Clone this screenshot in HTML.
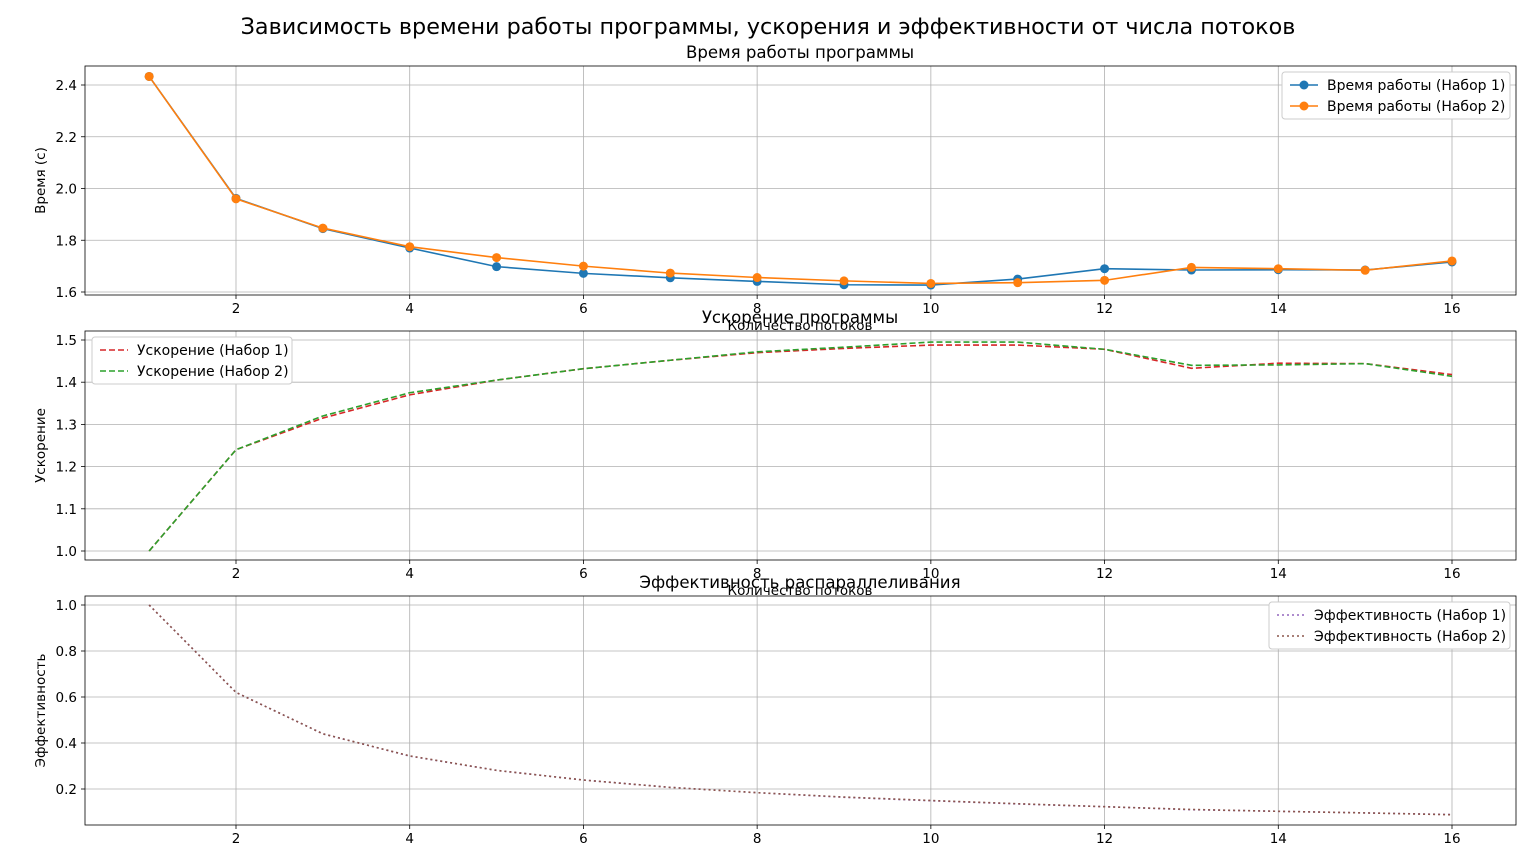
<!DOCTYPE html>
<html><head><meta charset="utf-8">
<style>
body{margin:0;background:#fff;}
svg{display:block;font-family:"DejaVu Sans","Liberation Sans",sans-serif;}
</style></head>
<body>
<svg id="chart" width="1536" height="850"></svg>
<script>
const threads=[1,2,3,4,5,6,7,8,9,10,11,12,13,14,15,16];
const time1=[2.433,1.962,1.845,1.770,1.698,1.672,1.655,1.641,1.628,1.627,1.650,1.690,1.685,1.686,1.685,1.716];
const time2=[2.433,1.960,1.847,1.775,1.733,1.700,1.673,1.656,1.643,1.633,1.636,1.645,1.695,1.690,1.684,1.720];
const speed1=[1.0,1.24,1.315,1.37,1.405,1.432,1.452,1.47,1.48,1.488,1.488,1.478,1.433,1.445,1.444,1.418];
const speed2=[1.0,1.24,1.32,1.375,1.405,1.432,1.452,1.472,1.483,1.495,1.495,1.478,1.44,1.441,1.444,1.414];
const eff1=[1.0,0.62,0.44,0.343,0.281,0.239,0.207,0.184,0.164,0.149,0.135,0.123,0.11,0.103,0.096,0.089];
const eff2=[1.0,0.62,0.44,0.344,0.281,0.239,0.207,0.184,0.165,0.15,0.136,0.123,0.111,0.103,0.096,0.088];
const xTicks=[2,4,6,8,10,12,14,16];
const timeTicks=[1.6,1.8,2.0,2.2,2.4];
const speedTicks=[1.0,1.1,1.2,1.3,1.4,1.5];
const effTicks=[0.2,0.4,0.6,0.8,1.0];

const NS="http://www.w3.org/2000/svg";
const svg=document.getElementById('chart');
function el(tag,attrs,parent,text){const e=document.createElementNS(NS,tag);for(const k in attrs)e.setAttribute(k,attrs[k]);if(text!==undefined)e.textContent=text;(parent||svg).appendChild(e);return e;}
const L=85,R=1516;
const xs=v=>236+(v-2)*(1452-236)/14;

const t=el('text',{x:768,y:34,'text-anchor':'middle','font-size':22.3,fill:'#000'},svg,'Зависимость времени работы программы, ускорения и эффективности от числа потоков');


function panel(name,top,bottom,ys,yTicks,dec,title,ylabel,series,legend,xlabel){
  const g=el('g',{});
  
  xTicks.forEach(v=>{el('line',{x1:xs(v),x2:xs(v),y1:top,y2:bottom,stroke:'#b0b0b0','stroke-width':0.8},g);
    el('line',{x1:xs(v),x2:xs(v),y1:bottom,y2:bottom+4,stroke:'#000','stroke-width':0.8},g);
    const tx=el('text',{x:xs(v),y:bottom+18,'text-anchor':'middle','font-size':13.5},g,String(v));
    });
  yTicks.forEach(v=>{el('line',{x1:L,x2:R,y1:ys(v),y2:ys(v),stroke:'#b0b0b0','stroke-width':0.8},g);
    el('line',{x1:L-4,x2:L,y1:ys(v),y2:ys(v),stroke:'#000','stroke-width':0.8},g);
    const tx=el('text',{x:L-8,y:ys(v)+5,'text-anchor':'end','font-size':13.5},g,v.toFixed(dec));
    });
  if(xlabel){const xl=el('text',{x:800,y:bottom+35,'text-anchor':'middle','font-size':13.5},g,'Количество потоков');
    }
  series.forEach(s=>{
    const pts=threads.map((x,i)=>xs(x)+','+ys(s.data[i])).join(' ');
    const p=el('polyline',{points:pts,fill:'none',stroke:s.color,'stroke-width':1.6,'stroke-dasharray':s.dash||''},g);
    
    if(s.marker)threads.forEach((x,i)=>{const c=el('circle',{cx:xs(x),cy:ys(s.data[i]),r:4.5,fill:s.color},g);
      });
  });
  el('rect',{x:L,y:top,width:R-L,height:bottom-top,fill:'none',stroke:'#000','stroke-width':0.8},g);
  const tt=el('text',{x:800,y:top-8,'text-anchor':'middle','font-size':16.6},g,title);
  
  const cy=(top+bottom)/2;
  const yl=el('text',{x:45,y:cy,'text-anchor':'middle','font-size':13.5,transform:`rotate(-90 45 ${cy})`},g,ylabel);
  
  const lg=el('g',{},g);
  el('rect',{x:legend.x,y:legend.y,width:legend.w,height:47,fill:'#fff',stroke:'#ccc',rx:3},lg);
  series.forEach((s,i)=>{const yy=legend.y+13+i*21;
    el('line',{x1:legend.x+8,x2:legend.x+36,y1:yy,y2:yy,stroke:s.color,'stroke-width':1.6,'stroke-dasharray':s.dash||''},lg);
    if(s.marker)el('circle',{cx:legend.x+22,cy:yy,r:4.5,fill:s.color},lg);
    const le=el('text',{x:legend.x+45,y:yy+5,'font-size':14},lg,s.label);
    });
}
panel('time',66,295,v=>292-(v-1.6)*(292-85)/0.8,timeTicks,1,'Время работы программы','Время (с)',
 [{name:'time-line-set1',data:time1,color:'#1f77b4',marker:true,label:'Время работы (Набор 1)'},
  {name:'time-line-set2',data:time2,color:'#ff7f0e',marker:true,label:'Время работы (Набор 2)'}],{x:1282,y:72,w:228},true);
panel('speedup',331,560,v=>551-(v-1.0)*(551-340)/0.5,speedTicks,1,'Ускорение программы','Ускорение',
 [{name:'speedup-line-set1',data:speed1,color:'#d62728',dash:'6,3',label:'Ускорение (Набор 1)'},
  {name:'speedup-line-set2',data:speed2,color:'#2ca02c',dash:'6,3',label:'Ускорение (Набор 2)'}],{x:92,y:337,w:200},true);
panel('efficiency',596,825,v=>789-(v-0.2)*(789-605)/0.8,effTicks,1,'Эффективность распараллеливания','Эффективность',
 [{name:'efficiency-line-set1',data:eff1,color:'#9467bd',dash:'2,3',label:'Эффективность (Набор 1)'},
  {name:'efficiency-line-set2',data:eff2,color:'#8c564b',dash:'2,3',label:'Эффективность (Набор 2)'}],{x:1269,y:602,w:241},false);
</script>
</body></html>
